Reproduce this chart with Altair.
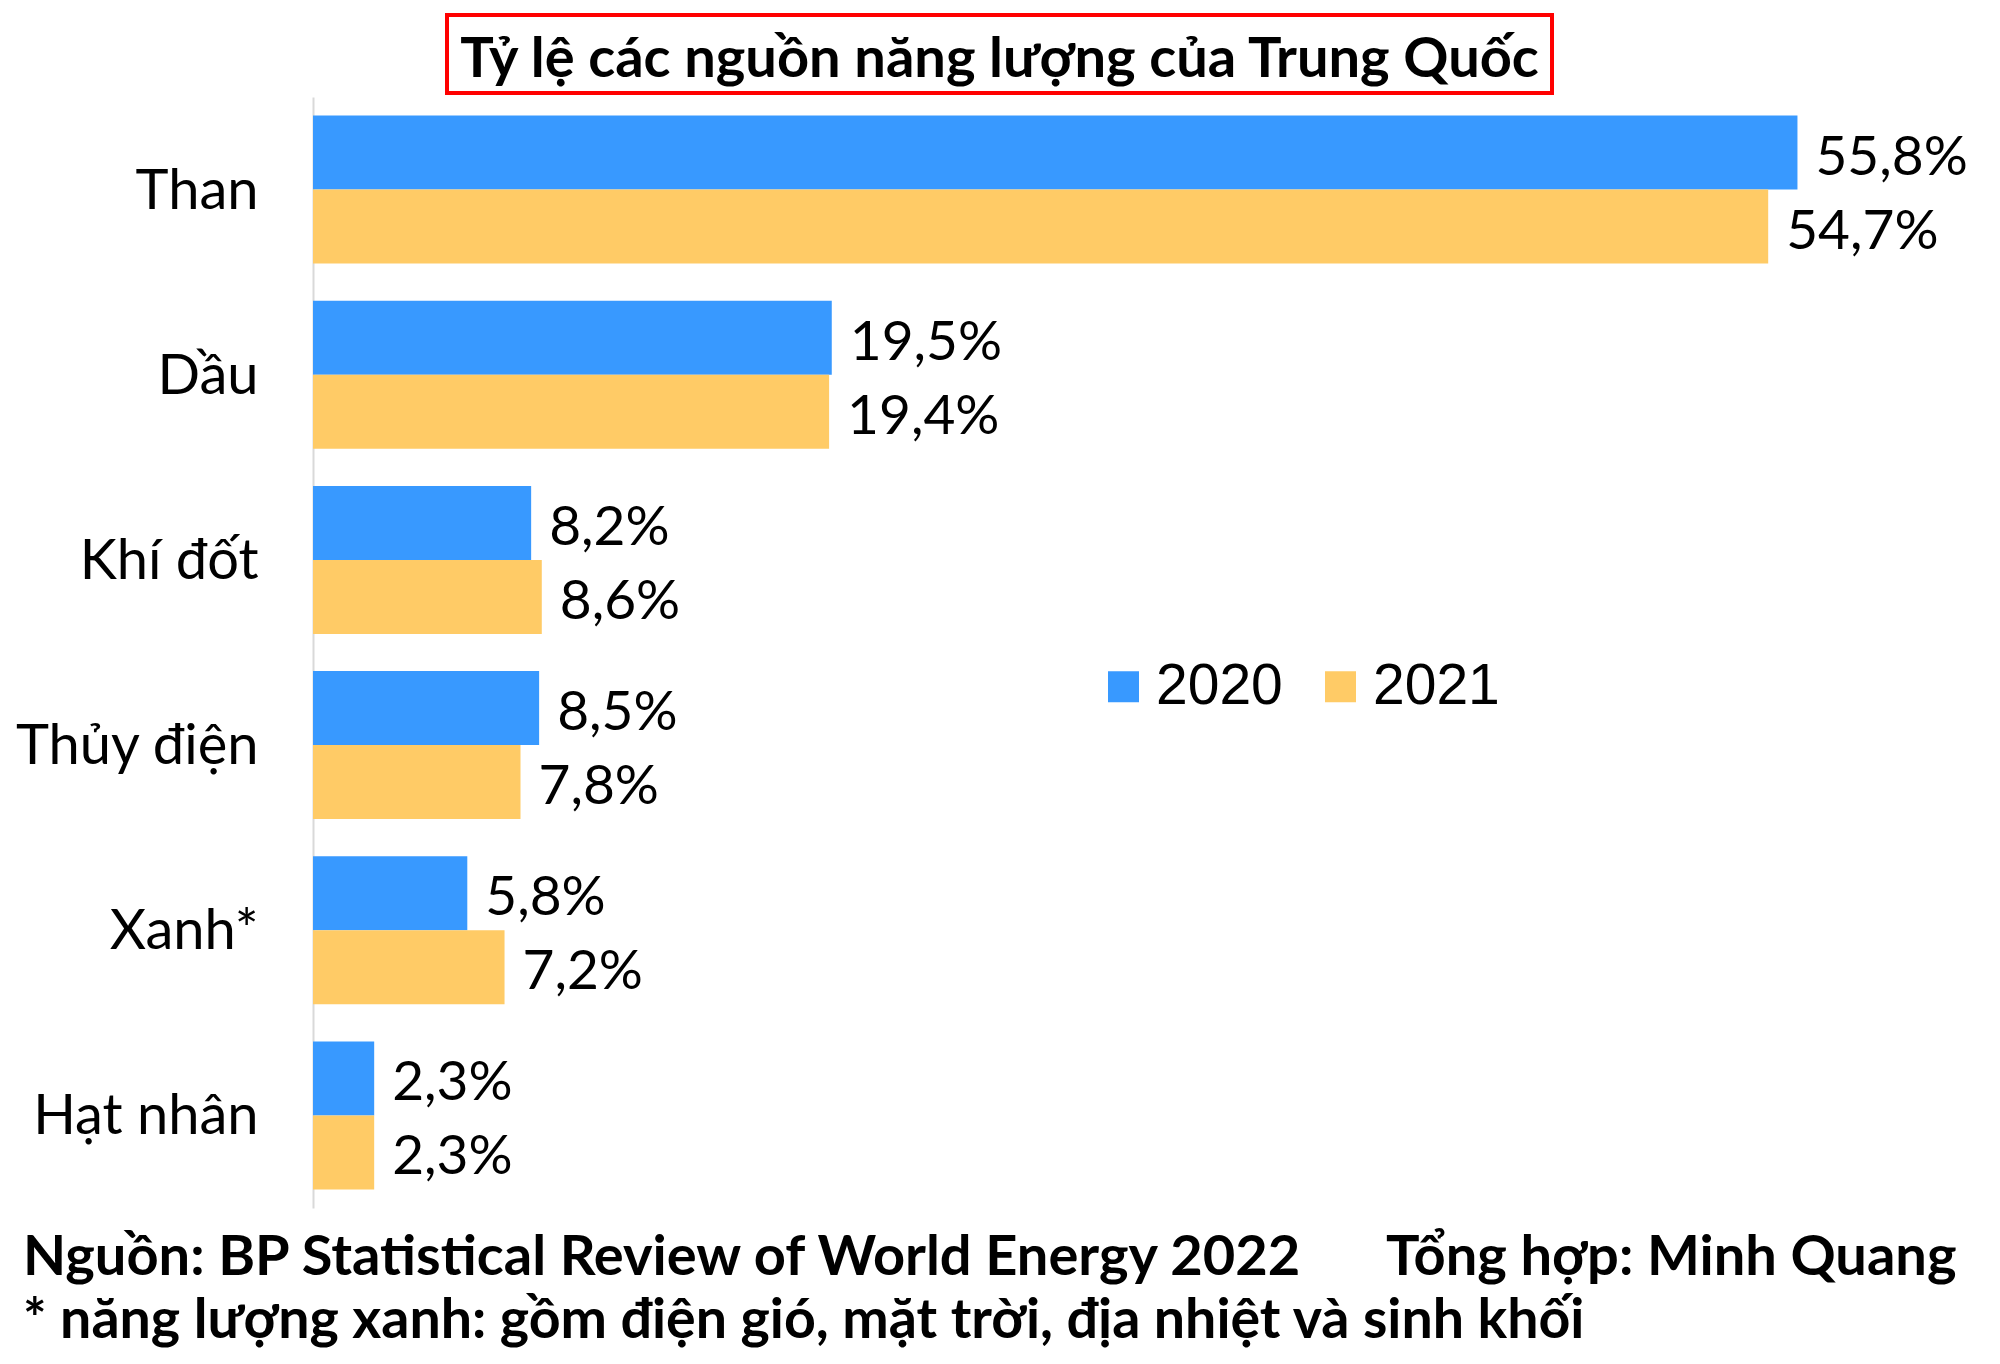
import altair as alt
import pandas as pd

categories = ["Than", "Dầu", "Khí đốt", "Thủy điện", "Xanh*", "Hạt nhân"]
years = ["2020", "2021"]
values_2020 = [55.8, 19.5, 8.2, 8.5, 5.8, 2.3]
values_2021 = [54.7, 19.4, 8.6, 7.8, 7.2, 2.3]

title_text = "Tỷ lệ các nguồn năng lượng của Trung Quốc"
source_text = "Nguồn: BP Statistical Review of World Energy 2022"
author_text = "Tổng hợp: Minh Quang"
note_text = "* năng lượng xanh: gồm điện gió, mặt trời, địa nhiệt và sinh khối"

colors = ["#3899FF", "#FFCB66"]

rows = []
for c, a, b in zip(categories, values_2020, values_2021):
    for yr, v in zip(years, [a, b]):
        rows.append({"cat": c, "year": yr, "value": v,
                     "label": f"{v:.1f}".replace(".", ",") + "%"})
df = pd.DataFrame(rows)

W, H = 1676, 1111
PL, PT = 313, 97

y_enc = alt.Y("cat:N", sort=categories,
              scale=alt.Scale(paddingInner=0.2, paddingOuter=0.1),
              axis=alt.Axis(title=None, ticks=False, tickSize=0, labelPadding=55,
                            labelLimit=0, labelOffset=2,
                            labelFont="Lato", labelFontSize=56, labelColor="#000000",
                            domainColor="#d9d9d9", domainWidth=2, grid=False))
yoff = alt.YOffset("year:N", sort=years, scale=alt.Scale(paddingInner=0, paddingOuter=0))
x_enc = alt.X("value:Q", scale=alt.Scale(domain=[0, 63], nice=False, zero=True), axis=None)

base = alt.Chart(df)

bars = base.mark_bar(size=74).encode(
    y=y_enc, yOffset=yoff, x=x_enc,
    color=alt.Color("year:N", sort=years,
                    scale=alt.Scale(domain=years, range=colors),
                    legend=alt.Legend(title=None, orient="none", legendX=782, legendY=561,
                                      direction="horizontal", symbolType="square",
                                      symbolSize=961, symbolStrokeWidth=0, symbolOpacity=1,
                                      labelFont="Liberation Sans", labelFontSize=57,
                                      labelColor="#000000", labelOffset=4,
                                      columnPadding=29, padding=0)),
)

labels = base.mark_text(align="left", baseline="middle", dx=18, dy=5, font="Lato",
                        fontSize=55, color="#000000").encode(
    y=alt.Y("cat:N", sort=categories), yOffset=yoff, x="value:Q", text="label:N"
)

deco = pd.DataFrame({"t": [title_text]})
box = alt.Chart(deco).mark_rect(fill="white", stroke="#FF0000", strokeWidth=4).encode(
    x=alt.value(447 - PL), x2=alt.value(1552 - PL),
    y=alt.value(15 - PT), y2=alt.value(93 - PT))
title = alt.Chart(deco).mark_text(font="Lato", fontWeight="bold", fontSize=56,
                                  align="center", baseline="alphabetic", color="#000000").encode(
    x=alt.value(999.5 - PL), y=alt.value(77 - PT), text="t:N")

foot1 = alt.Chart(pd.DataFrame({"t": [source_text]})).mark_text(
    font="Lato", fontWeight="bold", fontSize=56, align="left", baseline="alphabetic",
    color="#000000").encode(x=alt.value(23 - PL), y=alt.value(1275 - PT), text="t:N")
foot2 = alt.Chart(pd.DataFrame({"t": [author_text]})).mark_text(
    font="Lato", fontWeight="bold", fontSize=56, align="left", baseline="alphabetic",
    color="#000000").encode(x=alt.value(1386 - PL), y=alt.value(1275 - PT), text="t:N")
foot3 = alt.Chart(pd.DataFrame({"t": [note_text]})).mark_text(
    font="Lato", fontWeight="bold", fontSize=55.5, align="left", baseline="alphabetic",
    color="#000000").encode(x=alt.value(23 - PL), y=alt.value(1338 - PT), text="t:N")

chart = alt.layer(bars, labels, box, title, foot1, foot2, foot3).resolve_scale(
    color="independent"
).properties(
    width=W, height=H,
    autosize=alt.AutoSizeParams(type="none"),
    padding={"left": PL, "top": PT, "right": 2000 - PL - W, "bottom": 1364 - PT - H},
    background="white",
).configure_view(stroke=None)

chart.save("out.html", embed_options={"renderer": "svg", "actions": False})
